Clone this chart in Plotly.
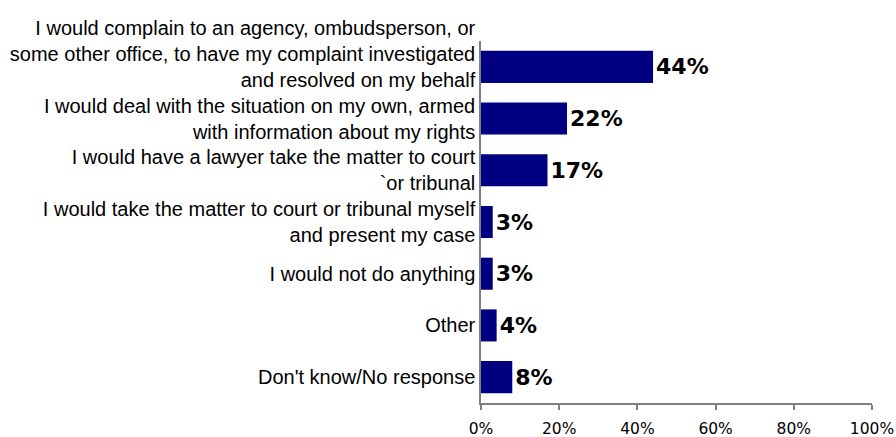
import plotly.graph_objects as go

# Survey responses and their shares (percent)
categories = [
    "I would complain to an agency, ombudsperson, or<br>some other office, to have my complaint investigated<br>and resolved on my behalf<br> ",
    "I would deal with the situation on my own, armed<br>with information about my rights",
    "I would have a lawyer take the matter to court<br>`or tribunal",
    "I would take the matter to court or tribunal myself<br>and present my case",
    "I would not do anything",
    "Other",
    "Don't know/No response",
]
values = [44, 22, 17, 3, 3, 4, 8]
value_labels = [f"{v}%" for v in values]
x_ticks = [0, 20, 40, 60, 80, 100]

AXIS_GRAY = "#808080"

fig = go.Figure(
    go.Bar(
        x=values,
        y=categories,
        orientation="h",
        marker=dict(color="#000080", line=dict(width=0)),
        text=value_labels,
        textposition="outside",
        textfont=dict(family="DejaVu Sans", size=22, color="#000000", weight="bold"),
        cliponaxis=False,
        hoverinfo="skip",
    )
)

fig.update_layout(
    width=896,
    height=437,
    margin=dict(l=481, r=24, t=41, b=34),
    paper_bgcolor="white",
    plot_bgcolor="white",
    bargap=0.38,
    showlegend=False,
    xaxis=dict(
        range=[0, 100],
        tickvals=x_ticks,
        ticktext=[f"{t}%" for t in x_ticks],
        showgrid=False,
        zeroline=False,
        showline=True,
        linecolor=AXIS_GRAY,
        linewidth=1.5,
        ticks="outside",
        ticklen=5,
        tickwidth=1.5,
        tickcolor=AXIS_GRAY,
        ticklabelstandoff=6,
        tickfont=dict(family="DejaVu Sans", size=15.5, color="#000000"),
        automargin=False,
        fixedrange=True,
    ),
    yaxis=dict(
        autorange="reversed",
        showgrid=False,
        zeroline=False,
        showline=True,
        linecolor=AXIS_GRAY,
        linewidth=1.5,
        ticks="",
        tickfont=dict(family="Liberation Sans, Arial", size=20, color="#000000"),
        automargin=False,
        fixedrange=True,
    ),
)

fig.write_html("out.html")
